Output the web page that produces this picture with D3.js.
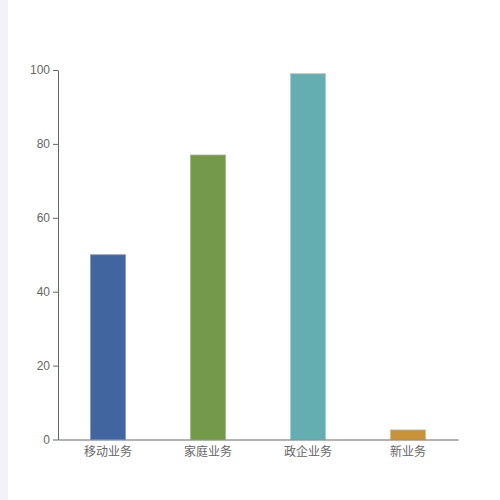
<!DOCTYPE html>
<html>
<head>
<meta charset="utf-8">
<script src="https://cdn.jsdelivr.net/npm/d3@7"></script>
<style>
  html, body { margin: 0; padding: 0; background: #fff; }
  #chart { width: 500px; height: 500px; }
  .axis text { font-family: "Liberation Sans", "Noto Sans CJK SC", sans-serif; font-size: 12px; fill: #666; }
  .axis path, .axis line { stroke: #666; }
</style>
</head>
<body>
<div id="chart"></div>
<script>
  var width = 500;
  var height = 500;

  var categories = ["移动业务", "家庭业务", "政企业务", "新业务"];
  var values = [50, 77, 99, 2.6];
  var colors = ["#41669f", "#74994a", "#64adb0", "#c8923a"];
  var borders = ["#7f9cc6", "#a2bd84", "#a3d0d2", "#e0bd84"];
  var yTicks = [0, 20, 40, 60, 80, 100];

  var margin = {top: 70, right: 42, bottom: 60.5, left: 58};

  var svg = d3.select("#chart").append("svg")
    .attr("width", width)
    .attr("height", height);

  // light strip on the left edge
  svg.append("rect")
    .attr("x", 0).attr("y", 0)
    .attr("width", 8).attr("height", height)
    .attr("fill", "#f2f2f8");

  var x = d3.scaleBand()
    .domain(categories)
    .range([margin.left, width - margin.right])
    .paddingInner(0.65)
    .paddingOuter(0.325);

  var y = d3.scaleLinear()
    .domain([0, 100])
    .range([height - margin.bottom, margin.top]);

  svg.selectAll("rect.bar")
    .data(values)
    .enter()
    .append("rect")
    .attr("class", "bar")
    .attr("x", function(d, i){ return x(categories[i]); })
    .attr("y", function(d){ return y(d); })
    .attr("width", x.bandwidth())
    .attr("height", function(d){ return y(0) - y(d); })
    .attr("fill", function(d, i){ return colors[i]; })
    .attr("stroke", function(d, i){ return borders[i]; })
    .attr("stroke-width", 0.8);

  var yAxis = svg.append("g")
    .attr("class", "axis")
    .attr("transform", "translate(" + margin.left + ",0)")
    .call(d3.axisLeft(y).tickValues(yTicks).tickSize(5).tickSizeOuter(0).tickPadding(3));

  var xAxis = svg.append("g")
    .attr("class", "axis")
    .attr("transform", "translate(0," + y(0) + ")")
    .call(d3.axisBottom(x).tickSize(0).tickPadding(8));

  xAxis.selectAll("text")
    .style("font-family", "\"Noto Sans CJK SC\", sans-serif");
</script>
</body>
</html>
